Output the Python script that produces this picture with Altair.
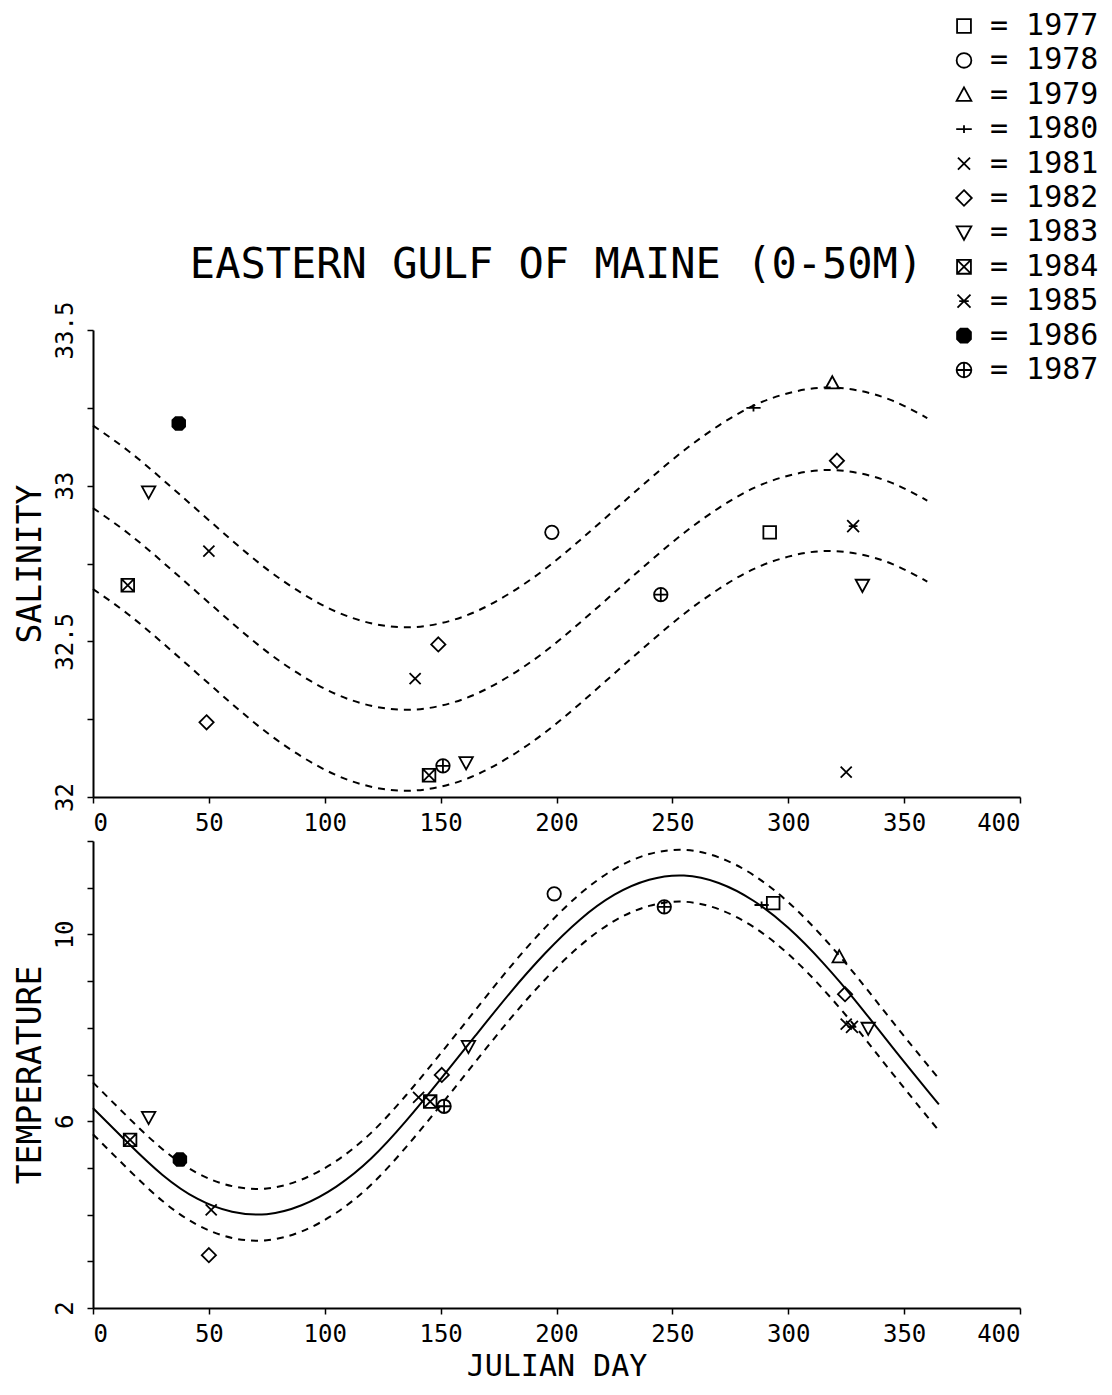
import altair as alt
import pandas as pd

# ---------------- data ----------------
years = ["1977", "1978", "1979", "1980", "1981", "1982",
         "1983", "1984", "1985", "1986", "1987"]

# salinity observations (0-50 m)
sal_year = ["1986", "1983", "1984", "1981", "1982", "1982", "1981", "1984", "1987",
            "1983", "1978", "1980", "1979", "1982", "1977", "1985", "1983", "1981", "1987"]
sal_day = [37, 24, 15, 50, 49, 149, 139, 145, 151,
           161, 198, 285, 319, 321, 292, 328, 332, 325, 245]
sal_value = [33.20, 32.98, 32.68, 32.79, 32.24, 32.49, 32.38, 32.07, 32.10,
             32.11, 32.85, 33.25, 33.33, 33.08, 32.85, 32.87, 32.68, 32.08, 32.65]

# temperature observations (0-50 m)
temp_year = ["1984", "1983", "1986", "1981", "1982", "1981", "1984", "1987", "1982",
             "1983", "1978", "1987", "1980", "1977", "1979", "1982", "1985", "1981", "1983"]
temp_day = [16, 24, 37.5, 51, 50, 140.5, 145.5, 151.5, 150.5,
            162, 199, 246.5, 288.5, 293.5, 322, 324.5, 327.5, 325, 334.5]
temp_value = [5.60, 6.08, 5.18, 4.10, 3.13, 6.51, 6.42, 6.32, 6.99,
              7.60, 10.87, 10.59, 10.63, 10.67, 9.52, 8.72, 8.02, 8.08, 7.99]

# fitted salinity curves
sal_fit_day = [0, 15, 30, 45, 60, 75, 90, 105, 120, 135, 150, 165, 180,
               195, 210, 225, 240, 255, 270, 285, 300, 315, 330, 345, 360]
sal_fit_mid = [32.928, 32.848, 32.755, 32.657, 32.559, 32.467, 32.390, 32.330, 32.293,
               32.280, 32.293, 32.330, 32.390, 32.467, 32.559, 32.657, 32.755, 32.848,
               32.928, 32.992, 33.032, 33.050, 33.041, 33.008, 32.952]
sal_fit_hi = [33.193, 33.113, 33.020, 32.922, 32.824, 32.732, 32.655, 32.595, 32.558,
              32.545, 32.558, 32.595, 32.655, 32.732, 32.824, 32.922, 33.020, 33.113,
              33.193, 33.257, 33.297, 33.315, 33.306, 33.273, 33.217]
sal_fit_lo = [32.668, 32.588, 32.495, 32.397, 32.299, 32.207, 32.130, 32.070, 32.033,
              32.020, 32.033, 32.070, 32.130, 32.207, 32.299, 32.397, 32.495, 32.588,
              32.668, 32.732, 32.772, 32.790, 32.781, 32.748, 32.692]

# fitted temperature curves
temp_fit_day = [0, 15, 30, 45, 60, 75, 90, 105, 120, 135, 150, 165, 180,
                195, 210, 225, 240, 255, 270, 285, 300, 315, 330, 345, 360, 365]
temp_fit_mid = [6.28, 5.54, 4.85, 4.34, 4.06, 4.01, 4.20, 4.60, 5.20, 6.00, 6.90, 7.83, 8.75,
                9.59, 10.31, 10.85, 11.17, 11.26, 11.10, 10.72, 10.14, 9.39, 8.52, 7.58, 6.66, 6.36]
temp_fit_hi = [6.83, 6.09, 5.40, 4.89, 4.61, 4.56, 4.75, 5.15, 5.75, 6.55, 7.45, 8.38, 9.30,
               10.14, 10.86, 11.40, 11.72, 11.81, 11.65, 11.27, 10.69, 9.94, 9.07, 8.13, 7.21, 6.91]
temp_fit_lo = [5.72, 4.98, 4.29, 3.78, 3.50, 3.45, 3.64, 4.04, 4.64, 5.44, 6.34, 7.27, 8.19,
               9.03, 9.75, 10.29, 10.61, 10.70, 10.54, 10.16, 9.58, 8.83, 7.96, 7.02, 6.10, 5.80]

# ---------------- styles ----------------
symbol_paths = [
    "M-0.8,-0.8H0.8V0.8H-0.8Z",                                            # 1977 square
    "M-0.85,0A0.85,0.85,0,1,0,0.85,0A0.85,0.85,0,1,0,-0.85,0Z",             # 1978 circle
    "M0,-0.85L0.85,0.7L-0.85,0.7Z",                                         # 1979 triangle up
    "M-0.9,0H0.9M0,-0.45V0.45",                                             # 1980 plus
    "M-0.7,-0.7L0.7,0.7M-0.7,0.7L0.7,-0.7",                                 # 1981 x
    "M0,-0.9L0.9,0L0,0.9L-0.9,0Z",                                          # 1982 diamond
    "M-0.85,-0.7L0.85,-0.7L0,0.85Z",                                        # 1983 triangle down
    "M-0.8,-0.8H0.8V0.8H-0.8ZM-0.8,-0.8L0.8,0.8M0.8,-0.8L-0.8,0.8",         # 1984 boxed x
    "M-0.75,-0.75L0.75,0.75M-0.75,0.75L0.75,-0.75M-0.55,0H0.55",            # 1985 asterisk
    ("M-0.4,-0.8L0.4,-0.8L0.8,-0.4L0.8,0.4L0.4,0.8L-0.4,0.8L-0.8,0.4L-0.8,-0.4Z"
     "M-0.5,-0.7H0.5M-0.6,-0.6H0.6M-0.7,-0.5H0.7M-0.8,-0.4H0.8M-0.8,-0.3H0.8"
     "M-0.8,-0.2H0.8M-0.8,-0.1H0.8M-0.8,0H0.8M-0.8,0.1H0.8M-0.8,0.2H0.8"
     "M-0.8,0.3H0.8M-0.8,0.4H0.8M-0.7,0.5H0.7M-0.6,0.6H0.6M-0.5,0.7H0.5"),  # 1986 solid
    "M-0.85,0A0.85,0.85,0,1,0,0.85,0A0.85,0.85,0,1,0,-0.85,0ZM-0.85,0H0.85M0,-0.85V0.85",  # 1987
]

FONT = "DejaVu Sans Mono"

# ---------------- tables ----------------
sal_obs = pd.DataFrame({"year": sal_year, "day": sal_day, "value": sal_value})
temp_obs = pd.DataFrame({"year": temp_year, "day": temp_day, "value": temp_value})

sal_fit = pd.concat([
    pd.DataFrame({"day": sal_fit_day, "value": sal_fit_hi, "band": "hi"}),
    pd.DataFrame({"day": sal_fit_day, "value": sal_fit_mid, "band": "mid"}),
    pd.DataFrame({"day": sal_fit_day, "value": sal_fit_lo, "band": "lo"}),
])
temp_band = pd.concat([
    pd.DataFrame({"day": temp_fit_day, "value": temp_fit_hi, "band": "hi"}),
    pd.DataFrame({"day": temp_fit_day, "value": temp_fit_lo, "band": "lo"}),
])
temp_mid = pd.DataFrame({"day": temp_fit_day, "value": temp_fit_mid})

# ---------------- encodings ----------------
xscale = alt.Scale(domain=[0, 400], nice=False, zero=False)
legend = alt.Legend(labelExpr="'= ' + datum.label")
shape_enc = alt.Shape("year:N", title=None,
                      scale=alt.Scale(domain=years, range=symbol_paths), legend=legend)

x_ticks = [0, 50, 100, 150, 200, 250, 300, 350, 400]
x_axis_top = alt.Axis(values=x_ticks, title=None)
x_axis_bot = alt.Axis(values=x_ticks, title="JULIAN DAY")

sal_axis = alt.Axis(values=[32, 32.25, 32.5, 32.75, 33, 33.25, 33.5],
                    labelExpr="datum.value % 0.5 == 0 ? '' + datum.value : ''",
                    title="SALINITY")
temp_axis = alt.Axis(values=[2, 3, 4, 5, 6, 7, 8, 9, 10, 11, 12],
                     labelExpr="(datum.value - 2) % 4 == 0 ? '' + datum.value : ''",
                     title="TEMPERATURE")

W, H = 927, 467

sal_scale = alt.Scale(domain=[32, 33.5], nice=False, zero=False)
temp_scale = alt.Scale(domain=[2, 12], nice=False, zero=False)

dash = [7, 6]
MSIZE = 250

top_lines = alt.Chart(sal_fit).mark_line(
    color="black", strokeWidth=2, strokeDash=dash, interpolate="natural"
).encode(
    x=alt.X("day:Q", scale=xscale, axis=x_axis_top),
    y=alt.Y("value:Q", scale=sal_scale, axis=sal_axis),
    detail="band:N",
)
top_pts = alt.Chart(sal_obs).mark_point(
    filled=False, stroke="black", fill="transparent", strokeWidth=1.8, opacity=1, size=MSIZE
).encode(
    x=alt.X("day:Q", scale=xscale, axis=x_axis_top),
    y=alt.Y("value:Q", scale=sal_scale, axis=sal_axis),
    shape=shape_enc,
)
top = alt.layer(top_lines, top_pts).properties(
    width=W, height=H,
    title=alt.TitleParams("EASTERN GULF OF MAINE (0-50M)", font=FONT, fontSize=42,
                          fontWeight="normal", color="black", anchor="middle", offset=14),
)

bot_band = alt.Chart(temp_band).mark_line(
    color="black", strokeWidth=2, strokeDash=dash, interpolate="natural"
).encode(
    x=alt.X("day:Q", scale=xscale, axis=x_axis_bot),
    y=alt.Y("value:Q", scale=temp_scale, axis=temp_axis),
    detail="band:N",
)
bot_mid = alt.Chart(temp_mid).mark_line(
    color="black", strokeWidth=2, interpolate="natural"
).encode(
    x=alt.X("day:Q", scale=xscale, axis=x_axis_bot),
    y=alt.Y("value:Q", scale=temp_scale, axis=temp_axis),
)
bot_pts = alt.Chart(temp_obs).mark_point(
    filled=False, stroke="black", fill="transparent", strokeWidth=1.8, opacity=1, size=MSIZE
).encode(
    x=alt.X("day:Q", scale=xscale, axis=x_axis_bot),
    y=alt.Y("value:Q", scale=temp_scale, axis=temp_axis),
    shape=shape_enc,
)
bottom = alt.layer(bot_band, bot_mid, bot_pts).properties(width=W, height=H)

chart = alt.vconcat(top, bottom, spacing=44, bounds="flush").properties(
    padding={"left": 6, "top": 3, "right": 2, "bottom": 1},
    background="white",
).configure_view(
    stroke=None
).configure_axis(
    grid=False,
    domainColor="black", domainWidth=2,
    tickColor="black", tickWidth=1.5, tickSize=6,
    labelColor="black", labelFont=FONT, labelFontSize=24,
    titleColor="black", titleFont=FONT, titleFontSize=33, titleFontWeight="normal",
).configure_axisX(
    labelPadding=8, titlePadding=5, titleFontSize=30,
).configure_axisY(
    labelAngle=-90, labelPadding=10, titlePadding=6,
).configure_legend(
    orient="none", legendX=856, legendY=-319, padding=0,
    symbolSize=300, symbolStrokeWidth=1.8, symbolStrokeColor="black",
    symbolFillColor="transparent",
    labelFont=FONT, labelFontSize=30, labelColor="black", labelOffset=11,
    rowPadding=4.4, symbolOpacity=1,
)

chart.save("out.html", embed_options={"renderer": "svg", "actions": False})
